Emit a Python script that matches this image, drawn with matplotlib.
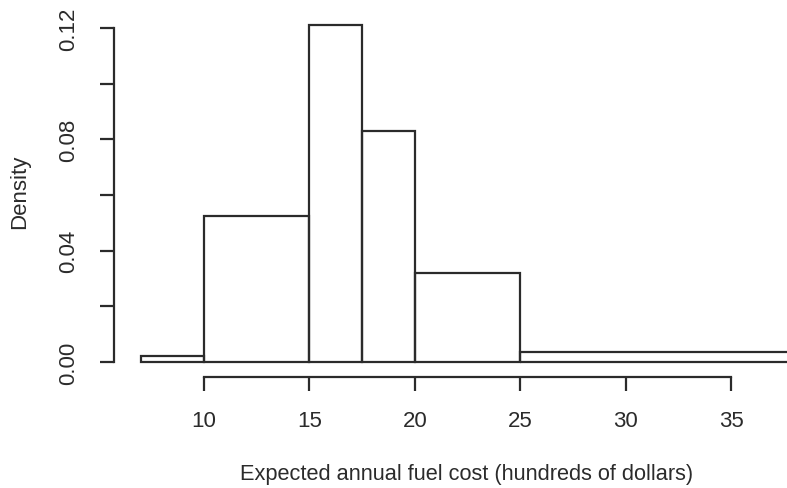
import numpy as np
import matplotlib
matplotlib.use("Agg")
import matplotlib.pyplot as plt

# Histogram bins (hundreds of dollars) and densities
breaks = [7, 10, 15, 17.5, 20, 25, 40]
density = [0.002, 0.0523, 0.121, 0.083, 0.032, 0.0037]

x_ticks = [10, 15, 20, 25, 30, 35]
y_ticks = [0.00, 0.02, 0.04, 0.06, 0.08, 0.10, 0.12]
y_tick_labels = ["0.00", "", "0.04", "", "0.08", "", "0.12"]

plt.rcParams["font.family"] = ["Liberation Sans", "DejaVu Sans"]
ink = "#2b2b2b"

W, H = 787, 489
fig = plt.figure(figsize=(W / 100, H / 100), dpi=100)

# plot region in pixels (left, right, bottom, top from top of image)
px_l, px_r, px_b, px_t = 114, 787, 378, 0
ax = fig.add_axes([px_l / W, 1 - px_b / H, (px_r - px_l) / W, (px_b - px_t) / H])

# data-to-pixel scaling: x 10 -> 204 px, 35 -> 731 px; y 0 -> 363 px, 0.12 -> 29 px
sx = (731 - 204) / 25.0
sy = (363 - 29) / 0.12
ax.set_xlim(10 + (px_l - 204) / sx, 10 + (px_r - 204) / sx)
ax.set_ylim(-(px_b - 363) / sy, (363 - px_t) / sy)

edges = np.array(breaks)
ax.bar(edges[:-1], density, width=np.diff(edges), align="edge",
       fill=False, edgecolor=ink, linewidth=1.6)

for side in ("top", "right"):
    ax.spines[side].set_visible(False)
ax.spines["left"].set_bounds(0, 0.12)
ax.spines["bottom"].set_bounds(10, 35)
for side in ("left", "bottom"):
    ax.spines[side].set_color(ink)
    ax.spines[side].set_linewidth(1.6)

ax.set_xticks(x_ticks)
ax.set_xticklabels([str(t) for t in x_ticks])
ax.set_yticks(y_ticks)
ax.set_yticklabels(y_tick_labels, rotation=90, va="center")

ax.tick_params(axis="both", direction="out", length=10, width=1.6, color=ink,
               labelcolor=ink, labelsize=16)
ax.tick_params(axis="x", pad=14)
ax.tick_params(axis="y", pad=15)

fig.text(467 / W, 1 - 475 / H, "Expected annual fuel cost (hundreds of dollars)",
         ha="center", va="center", fontsize=15.7, color=ink)
fig.text(20 / W, 1 - 192 / H, "Density", ha="center", va="center",
         rotation=90, fontsize=16, color=ink)

fig.savefig("out.png", dpi=100)
